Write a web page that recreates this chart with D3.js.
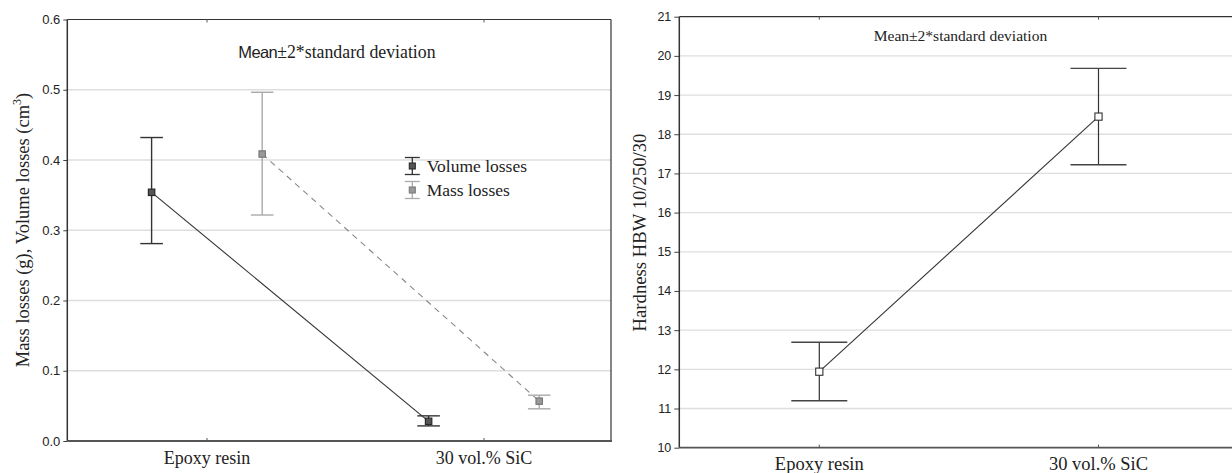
<!DOCTYPE html>
<html><head><meta charset="utf-8">
<script src="https://cdn.jsdelivr.net/npm/d3@7"></script>
<style>body{margin:0;background:#fff}svg{display:block}</style>
</head><body>
<svg id="c" width="1232" height="473"></svg>
<script>
// ---- data ----
const categories = ["Epoxy resin", "30 vol.% SiC"];
const seriesNames = ["Volume losses", "Mass losses"];
const volumeMean = [0.354, 0.028];
const volumeLow  = [0.281, 0.0215];
const volumeHigh = [0.432, 0.0358];
const massMean = [0.4085, 0.0567];
const massLow  = [0.3217, 0.0458];
const massHigh = [0.4964, 0.0652];
const leftTicks = [0.0, 0.1, 0.2, 0.3, 0.4, 0.5, 0.6];
const hardMean = [11.94, 18.45];
const hardLow  = [11.20, 17.22];
const hardHigh = [12.69, 19.68];
const rightTicks = [10, 11, 12, 13, 14, 15, 16, 17, 18, 19, 20, 21];

const svg = d3.select("#c");
const serif = "'Liberation Serif','Times New Roman',serif";
const sans = "'Liberation Sans',Arial,sans-serif";

// ---------------- LEFT CHART ----------------
const L = {x0: 67.3, x1: 611, y0: 19.5, y1: 441};
const xL = d3.scaleLinear().domain([0, 1]).range([207, 484]);
const off = d3.scalePoint().domain(seriesNames).range([-55.4, 55.2]);
const yL = d3.scaleLinear().domain([0, 0.6]).range([L.y1, L.y0]);
const gL = svg.append("g");

// gridlines
gL.append("g").selectAll("line").data(leftTicks.filter(t => t > 0 && t < 0.6)).join("line")
  .attr("x1", L.x0).attr("x2", L.x1).attr("y1", d => yL(d)).attr("y2", d => yL(d))
  .attr("stroke", "#dedede").attr("stroke-width", 1.3);

// y axis
const axL = gL.append("g").attr("transform", `translate(${L.x0},0)`)
  .call(d3.axisLeft(yL).tickValues(leftTicks).tickFormat(d3.format(".1f")).tickSize(4).tickPadding(3));
axL.select(".domain").remove();
axL.selectAll(".tick line").attr("stroke", "#444");
axL.selectAll(".tick text").attr("font-family", sans).attr("font-size", 13).attr("fill", "#222");

// frame
gL.append("line").attr("x1", L.x0).attr("x2", L.x0).attr("y1", L.y0).attr("y2", L.y1).attr("stroke", "#333").attr("stroke-width", 1.5);
gL.append("line").attr("x1", L.x0).attr("x2", L.x1).attr("y1", L.y0).attr("y2", L.y0).attr("stroke", "#333").attr("stroke-width", 1.2);
gL.append("line").attr("x1", L.x1).attr("x2", L.x1).attr("y1", L.y0).attr("y2", L.y1).attr("stroke", "#333").attr("stroke-width", 1.2);
gL.append("line").attr("x1", L.x0).attr("x2", L.x1 + 1).attr("y1", L.y1).attr("y2", L.y1).attr("stroke", "#555").attr("stroke-width", 1.8);

// category ticks (inside) and labels
categories.forEach((c, i) => {
  gL.append("line").attr("x1", xL(i)).attr("x2", xL(i)).attr("y1", L.y1).attr("y2", L.y1 - 3).attr("stroke", "#555");
  gL.append("line").attr("x1", xL(i)).attr("x2", xL(i)).attr("y1", L.y0).attr("y2", L.y0 + 3).attr("stroke", "#555");
  gL.append("text").attr("x", xL(i)).attr("y", 463.5).attr("text-anchor", "middle")
    .attr("font-family", serif).attr("font-size", 18).attr("fill", "#222").text(c);
});

// title
const tL = gL.append("text").attr("x", 238.3).attr("y", 58.3).attr("fill", "#222");
tL.append("tspan").attr("font-family", sans).attr("font-size", 16.5).attr("letter-spacing", -0.6).text("Mean");
tL.append("tspan").attr("font-family", serif).attr("font-size", 17.8).text("±2*standard deviation");

// y label
const yl = gL.append("text").attr("transform", `translate(28.5,${230}) rotate(-90)`)
  .attr("text-anchor", "middle").attr("font-family", serif).attr("font-size", 18.5).attr("fill", "#222");
yl.append("tspan").text("Mass losses (g), Volume losses (cm");
yl.append("tspan").attr("font-size", 12).attr("dy", -8).text("3");
yl.append("tspan").attr("dy", 8).text(")");

const series = [
  {name: "Volume losses", mean: volumeMean, low: volumeLow, high: volumeHigh, bar: "#333", line: "#333", dash: null, mfill: "#555", mstroke: "#2a2a2a"},
  {name: "Mass losses", mean: massMean, low: massLow, high: massHigh, bar: "#aaa", line: "#888", dash: "6,5", mfill: "#999", mstroke: "#7a7a7a"}
];
const capHalf = 11.3;
series.forEach(s => {
  const px = i => xL(i) + off(s.name);
  const lineGen = d3.line().x((d, i) => px(i)).y(d => yL(d));
  gL.append("path").attr("d", lineGen(s.mean)).attr("fill", "none").attr("stroke", s.line)
    .attr("stroke-width", 1.1).attr("stroke-dasharray", s.dash);
  s.mean.forEach((m, i) => {
    gL.append("line").attr("x1", px(i)).attr("x2", px(i)).attr("y1", yL(s.low[i])).attr("y2", yL(s.high[i])).attr("stroke", s.bar).attr("stroke-width", 1.4);
    [s.low[i], s.high[i]].forEach(v => gL.append("line").attr("x1", px(i) - capHalf).attr("x2", px(i) + capHalf)
      .attr("y1", yL(v)).attr("y2", yL(v)).attr("stroke", s.bar).attr("stroke-width", 1.4));
    gL.append("rect").attr("x", px(i) - 3.2).attr("y", yL(m) - 3.2).attr("width", 6.4).attr("height", 6.4)
      .attr("fill", s.mfill).attr("stroke", s.mstroke).attr("stroke-width", 1.2);
  });
});

// legend
series.forEach((s, k) => {
  const cy = 166 + k * 24, cx = 412.3;
  gL.append("line").attr("x1", cx).attr("x2", cx).attr("y1", cy - 8.5).attr("y2", cy + 8.5).attr("stroke", s.bar).attr("stroke-width", 1.3);
  [cy - 8.5, cy + 8.5].forEach(y => gL.append("line").attr("x1", cx - 7.5).attr("x2", cx + 7.5).attr("y1", y).attr("y2", y).attr("stroke", s.bar).attr("stroke-width", 1.3));
  gL.append("rect").attr("x", cx - 3).attr("y", cy - 3).attr("width", 6).attr("height", 6)
    .attr("fill", s.mfill).attr("stroke", s.mstroke).attr("stroke-width", 1.1);
  gL.append("text").attr("x", 426.7).attr("y", cy + 6).attr("font-family", serif).attr("font-size", 17.5)
    .attr("fill", "#222").text(s.name);
});

// ---------------- RIGHT CHART ----------------
const R = {x0: 679.3, x1: 1240, y0: 16.7, y1: 447.7};
const xR = d3.scaleLinear().domain([0, 1]).range([819.3, 1098.5]);
const yR = d3.scaleLinear().domain([10, 21]).range([R.y1, R.y0]);
const gR = svg.append("g");

gR.append("g").selectAll("line").data(rightTicks.filter(t => t > 10 && t < 21)).join("line")
  .attr("x1", R.x0).attr("x2", R.x1).attr("y1", d => yR(d)).attr("y2", d => yR(d))
  .attr("stroke", "#dedede").attr("stroke-width", 1.3);

const axR = gR.append("g").attr("transform", `translate(${R.x0},0)`)
  .call(d3.axisLeft(yR).tickValues(rightTicks).tickSize(5).tickPadding(3));
axR.select(".domain").remove();
axR.selectAll(".tick line").attr("stroke", "#444");
axR.selectAll(".tick text").attr("font-family", sans).attr("font-size", 12.5).attr("fill", "#222");

gR.append("line").attr("x1", R.x0).attr("x2", R.x0).attr("y1", R.y0).attr("y2", R.y1).attr("stroke", "#333").attr("stroke-width", 1.5);
gR.append("line").attr("x1", R.x0).attr("x2", R.x1).attr("y1", R.y0).attr("y2", R.y0).attr("stroke", "#333").attr("stroke-width", 1.2);
gR.append("line").attr("x1", R.x0).attr("x2", R.x1).attr("y1", R.y1).attr("y2", R.y1).attr("stroke", "#555").attr("stroke-width", 1.8);

categories.forEach((c, i) => {
  gR.append("line").attr("x1", xR(i)).attr("x2", xR(i)).attr("y1", R.y1).attr("y2", R.y1 - 3).attr("stroke", "#555");
  gR.append("line").attr("x1", xR(i)).attr("x2", xR(i)).attr("y1", R.y0).attr("y2", R.y0 + 3).attr("stroke", "#555");
  gR.append("text").attr("x", xR(i)).attr("y", 470).attr("text-anchor", "middle")
    .attr("font-family", serif).attr("font-size", 18.5).attr("fill", "#222").text(c);
});

gR.append("text").attr("x", 960.5).attr("y", 40.5).attr("text-anchor", "middle")
  .attr("font-family", serif).attr("font-size", 15.5).attr("fill", "#222").text("Mean±2*standard deviation");

gR.append("text").attr("transform", `translate(646,232.5) rotate(-90)`).attr("text-anchor", "middle")
  .attr("font-family", serif).attr("font-size", 18.7).attr("fill", "#222").text("Hardness HBW 10/250/30");

const hLine = d3.line().x((d, i) => xR(i)).y(d => yR(d));
gR.append("path").attr("d", hLine(hardMean)).attr("fill", "none").attr("stroke", "#333").attr("stroke-width", 1.1);
hardMean.forEach((m, i) => {
  const px = xR(i);
  gR.append("line").attr("x1", px).attr("x2", px).attr("y1", yR(hardLow[i])).attr("y2", yR(hardHigh[i])).attr("stroke", "#333").attr("stroke-width", 1.2);
  [hardLow[i], hardHigh[i]].forEach(v => gR.append("line").attr("x1", px - 28).attr("x2", px + 28)
    .attr("y1", yR(v)).attr("y2", yR(v)).attr("stroke", "#444").attr("stroke-width", 1.4));
  gR.append("rect").attr("x", px - 3.6).attr("y", yR(m) - 3.6).attr("width", 7.2).attr("height", 7.2)
    .attr("fill", "#fff").attr("stroke", "#333").attr("stroke-width", 1.1);
});
</script>
</body></html>
